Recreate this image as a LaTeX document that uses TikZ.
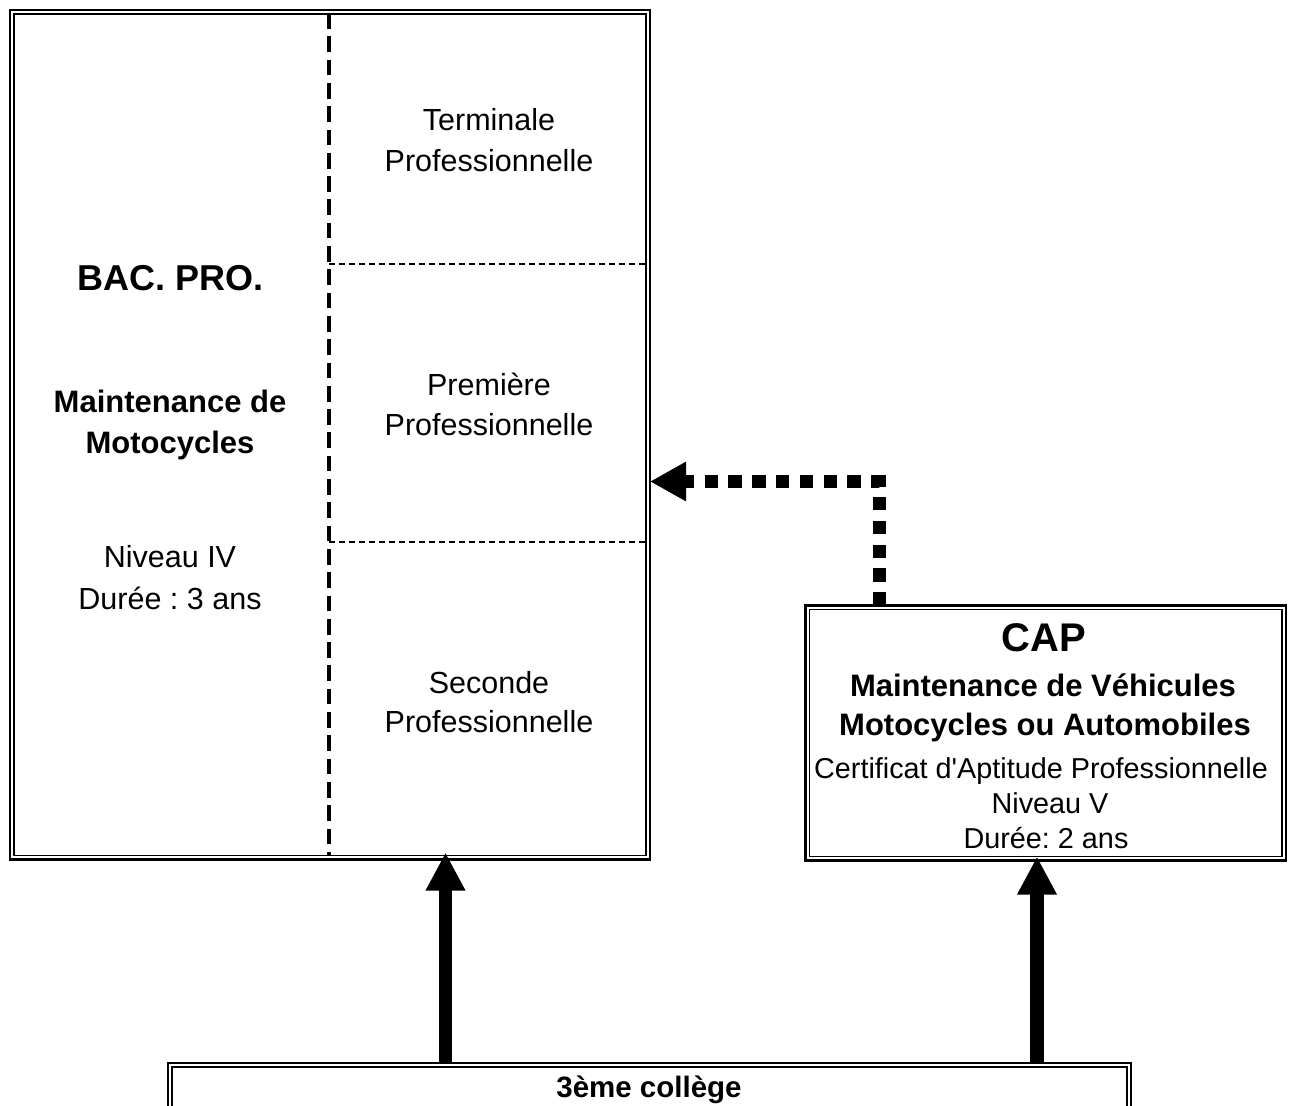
\documentclass[tikz,border=0pt]{standalone}
\usepackage{fontspec}
\setmainfont{Liberation Sans}[Ligatures=TeXOff]
\usetikzlibrary{arrows.meta,calc}
\frenchspacing
\begin{document}
\begin{tikzpicture}[x=1pt,y=-1pt,
  box/.style={draw, line width=2.2pt, inner sep=0pt, outer sep=0pt},
  innerbox/.style={line width=1.5pt},
  txt/.style={anchor=base, inner sep=0pt, outer sep=0pt},
  reg/.style={txt, font=\fontsize{30.5}{36}\selectfont},
  bld/.style={txt, font=\bfseries\fontsize{31}{36}\selectfont},
  capreg/.style={txt, font=\fontsize{28.8}{34}\selectfont},
  coldash/.style={line width=3.5pt, dash pattern=on 15.7pt off 7.6pt},
  rowdash/.style={line width=2pt, dash pattern=on 6pt off 4pt},
  dotarrow/.style={line width=13pt, dash pattern=on 13.3pt off 10.5pt, -{Triangle[length=36pt,width=37pt]}},
  bigarrow/.style={line width=13.5pt, -{Triangle[length=38pt,width=37pt]}}
]
\useasboundingbox (0,0) rectangle (1294,1106);
\fill[white] (0,0) rectangle (1294,1106);

% BAC PRO box
\node[box, minimum width=640pt, minimum height=849.5pt] (bac) at (330,434.75) {};
\draw[innerbox] ([shift={(4pt,-4pt)}]bac.north west) rectangle ([shift={(-4pt,4pt)}]bac.south east);
\draw[coldash] (329,13) -- (329,856);
\draw[rowdash] (329,264) -- (646,264);
\draw[rowdash] (329,542) -- (646,542);

% CAP box
\node[box, minimum width=480.5pt, minimum height=255pt] (cap) at (1045.75,733) {};
\draw[innerbox] ([shift={(4pt,-4pt)}]cap.north west) rectangle ([shift={(-4pt,4pt)}]cap.south east);

% bottom box
\node[box, minimum width=963pt, minimum height=87pt] (col) at (649.5,1106.5) {};
\draw[innerbox] ([shift={(4pt,-4pt)}]col.north west) rectangle ([shift={(-4pt,4pt)}]col.south east);

% left column text
\node[txt, font=\bfseries\fontsize{36}{42}\selectfont] (bacpro) at (171,290) {BAC. PRO.};
\node[bld] (m1) at (170,412) {Maintenance de};
\node[bld] (m2) at (170,453) {Motocycles};
\node[reg] (n4) at (170,567) {Niveau IV};
\node[reg] (d3) at (170,609) {Durée : 3 ans};

% right column text
\node[reg] (term1) at (489,130) {Terminale};
\node[reg] (term2) at (489,171) {Professionnelle};
\node[reg] (prem1) at (489,395) {Première};
\node[reg] (prem2) at (489,435) {Professionnelle};
\node[reg] (sec1) at (489,693) {Seconde};
\node[reg] (sec2) at (489,732) {Professionnelle};

% CAP text
\node[txt, font=\bfseries\fontsize{40}{46}\selectfont] (captitle) at (1044,651) {CAP};
\node[bld] (c1) at (1043,696) {Maintenance de Véhicules};
\node[bld] (c2) at (1045,735) {Motocycles ou Automobiles};
\node[capreg] (c3) at (1041,778) {Certificat d'Aptitude Professionnelle};
\node[capreg] (c4) at (1050,813) {Niveau V};
\node[capreg] (c5) at (1046,848) {Durée: 2 ans};

% bottom text
\node[txt, font=\bfseries\fontsize{29.5}{34}\selectfont] (college) at (649,1097) {3ème collège};

% connectors
\draw[dotarrow] ($(cap.north west)+(74pt,0pt)$) |- ($(bac.north east)+(0pt,-471.5pt)$);
\draw[bigarrow] ($(col.north west)+(277.5pt,0pt)$) -- ($(bac.south west)+(435.5pt,7pt)$);
\draw[bigarrow] ($(col.north west)+(869pt,0pt)$) -- ($(cap.south west)+(231.5pt,4pt)$);
\end{tikzpicture}
\end{document}
